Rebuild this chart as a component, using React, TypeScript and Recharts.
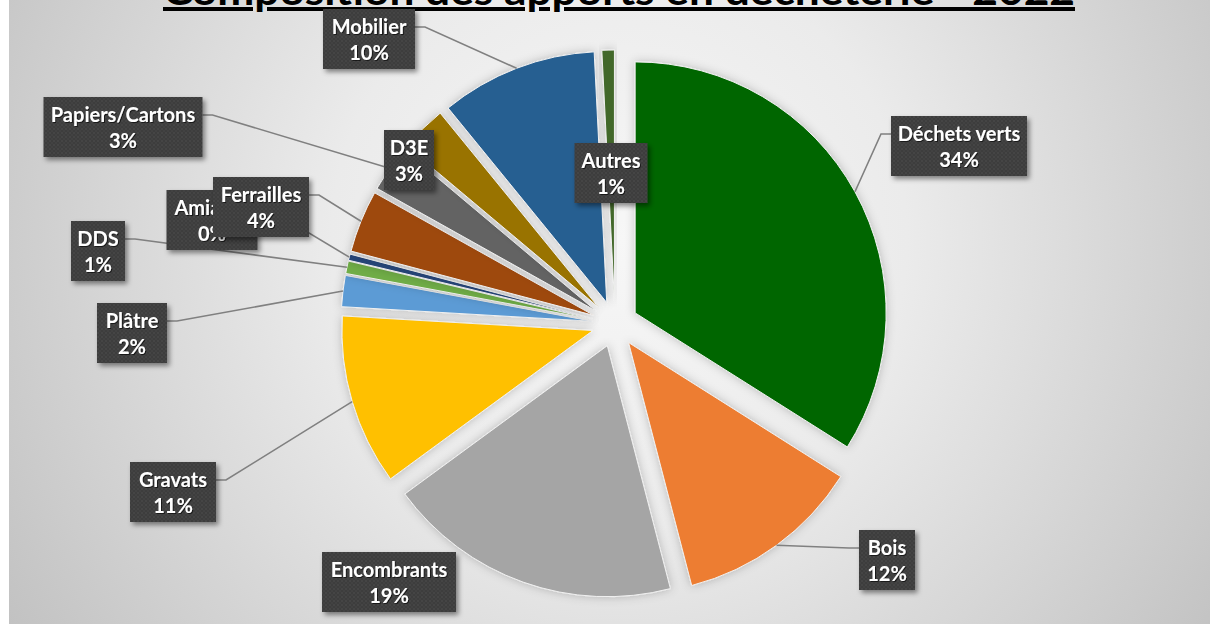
import React from 'react';
import { PieChart, Pie, Cell, Sector } from 'recharts';

const TITLE = 'Composition des apports en déchèterie - 2022';
const CATEGORIES = ['Déchets verts', 'Bois', 'Encombrants', 'Gravats', 'Plâtre', 'DDS', 'Amiante', 'Ferrailles', 'Papiers/Cartons', 'D3E', 'Mobilier', 'Autres'];
const VALUES = [34, 12, 19, 11, 2, 0.8, 0.4, 4, 3, 3, 10.1, 0.8];
const COLORS = ['#006600', '#ED7D31', '#A5A5A5', '#FFC000', '#5B9BD5', '#70AD47', '#264478', '#9E480E', '#636363', '#997300', '#255E91', '#43682B'];

// label box layout (chart px): centre x, centre y, width, has leader line
const LABEL_LAYOUT = [
  { x: 950, y: 146, w: 136, line: true },
  { x: 878, y: 560, w: 56, line: true },
  { x: 380, y: 582, w: 134, line: false },
  { x: 164, y: 492, w: 86, line: true },
  { x: 123, y: 333, w: 70, line: true },
  { x: 89, y: 251, w: 54, line: true },
  { x: 203, y: 220, w: 91, line: true },
  { x: 252, y: 207, w: 96, line: true },
  { x: 114, y: 127, w: 159, line: true },
  { x: 400, y: 160, w: 50, line: false },
  { x: 360, y: 39, w: 92, line: true },
  { x: 602, y: 173, w: 73, line: false },
];

const data = CATEGORIES.map((name, i) => ({ name, value: VALUES[i] }));
const TOTAL = VALUES.reduce((a, b) => a + b, 0);

const RAD = Math.PI / 180;
const EXPLODE = 23;
const BOX_H = 60;
const FONT = 'Lato, "Open Sans", sans-serif';

const offsetFor = (midAngle: number) => ({
  dx: EXPLODE * Math.cos(-midAngle * RAD),
  dy: EXPLODE * Math.sin(-midAngle * RAD),
});

const renderSector = (props: any) => {
  const { cx, cy, midAngle } = props;
  const { dx, dy } = offsetFor(midAngle);
  return (
    <g filter="url(#sliceShadow)">
      <Sector {...props} cx={cx + dx} cy={cy + dy} />
    </g>
  );
};

const renderLabel = (props: any) => {
  const { cx, cy, midAngle, outerRadius, index } = props;
  const L = LABEL_LAYOUT[index];
  const { dx, dy } = offsetFor(midAngle);
  const ax = cx + dx + outerRadius * Math.cos(-midAngle * RAD);
  const ay = cy + dy + outerRadius * Math.sin(-midAngle * RAD);
  const left = L.x - L.w / 2;
  const top = L.y - BOX_H / 2;
  const attachY = top + BOX_H * 0.3;
  const onLeft = L.x < cx;
  const attachX = onLeft ? left + L.w : left;
  const elbowX = onLeft ? attachX + 10 : attachX - 10;
  const pct = Math.round((props.percent != null ? props.percent : VALUES[index] / TOTAL) * 100);
  return (
    <g key={`lbl-${index}`}>
      {L.line && (
        <polyline
          points={`${attachX},${attachY} ${elbowX},${attachY} ${ax},${ay}`}
          stroke="#808080"
          strokeWidth={1.6}
          fill="none"
        />
      )}
      <rect x={left} y={top} width={L.w} height={BOX_H} fill="url(#dots)" filter="url(#boxShadow)" />
      <text x={L.x} y={top + 25} textAnchor="middle" fill="#ffffff" fontFamily={FONT} fontWeight={700} fontSize={20} filter="url(#textShadow)">
        {CATEGORIES[index]}
      </text>
      <text x={L.x} y={top + 51} textAnchor="middle" fill="#ffffff" fontFamily={FONT} fontWeight={700} fontSize={20} filter="url(#textShadow)">
        {`${pct}%`}
      </text>
    </g>
  );
};

export default function App() {
  const W = 1201;
  const H = 624;
  return (
    <div style={{ position: 'absolute', left: 9, top: 0, width: W, height: H, overflow: 'hidden' }}>
      <svg width={W} height={H} style={{ position: 'absolute', left: 0, top: 0 }}>
        <defs>
          <radialGradient id="bg" gradientUnits="userSpaceOnUse" cx={610} cy={240} r={720}>
            <stop offset="0" stopColor="#f7f7f7" />
            <stop offset="0.4" stopColor="#ebebeb" />
            <stop offset="1" stopColor="#c2c2c2" />
          </radialGradient>
          <pattern id="dots" patternUnits="userSpaceOnUse" width={4} height={4}>
            <rect width={4} height={4} fill="#3d3d3d" />
            <circle cx={1} cy={1} r={0.8} fill="#4c4c4c" />
            <circle cx={3} cy={3} r={0.8} fill="#474747" />
          </pattern>
          <filter id="boxShadow" x="-20%" y="-20%" width="150%" height="160%">
            <feDropShadow dx={2.5} dy={3} stdDeviation={2.5} floodColor="#000" floodOpacity={0.45} />
          </filter>
          <filter id="textShadow" x="-10%" y="-30%" width="120%" height="160%">
            <feDropShadow dx={1} dy={1} stdDeviation={0.6} floodColor="#000" floodOpacity={0.6} />
          </filter>
          <filter id="sliceShadow" x="-20%" y="-20%" width="140%" height="140%">
            <feDropShadow dx={0} dy={0} stdDeviation={5} floodColor="#000" floodOpacity={0.22} />
          </filter>
        </defs>
        <rect x={0} y={0} width={W} height={H} fill="url(#bg)" />
        <text
          x={610}
          y={5}
          textAnchor="middle"
          fontFamily={FONT}
          fontWeight={700}
          fontSize={40}
          fill="#000"
          textLength={912}
          lengthAdjust="spacingAndGlyphs"
          style={{ textDecoration: 'underline' }}
        >
          {TITLE}
        </text>
      </svg>
      <div style={{ position: 'absolute', left: 0, top: 0 }}>
        <PieChart width={W} height={H} margin={{ top: 0, right: 0, bottom: 0, left: 0 }}>
          <Pie
            data={data}
            dataKey="value"
            nameKey="name"
            cx={606}
            cy={324}
            outerRadius={251}
            startAngle={90}
            endAngle={-270}
            stroke="#f0f0f0"
            strokeWidth={1}
            isAnimationActive={false}
            shape={renderSector}
            activeShape={renderSector}
            inactiveShape={renderSector}
            label={renderLabel}
            labelLine={false}
          >
            {data.map((d, i) => (
              <Cell key={d.name} fill={COLORS[i]} />
            ))}
          </Pie>
        </PieChart>
      </div>
    </div>
  );
}
